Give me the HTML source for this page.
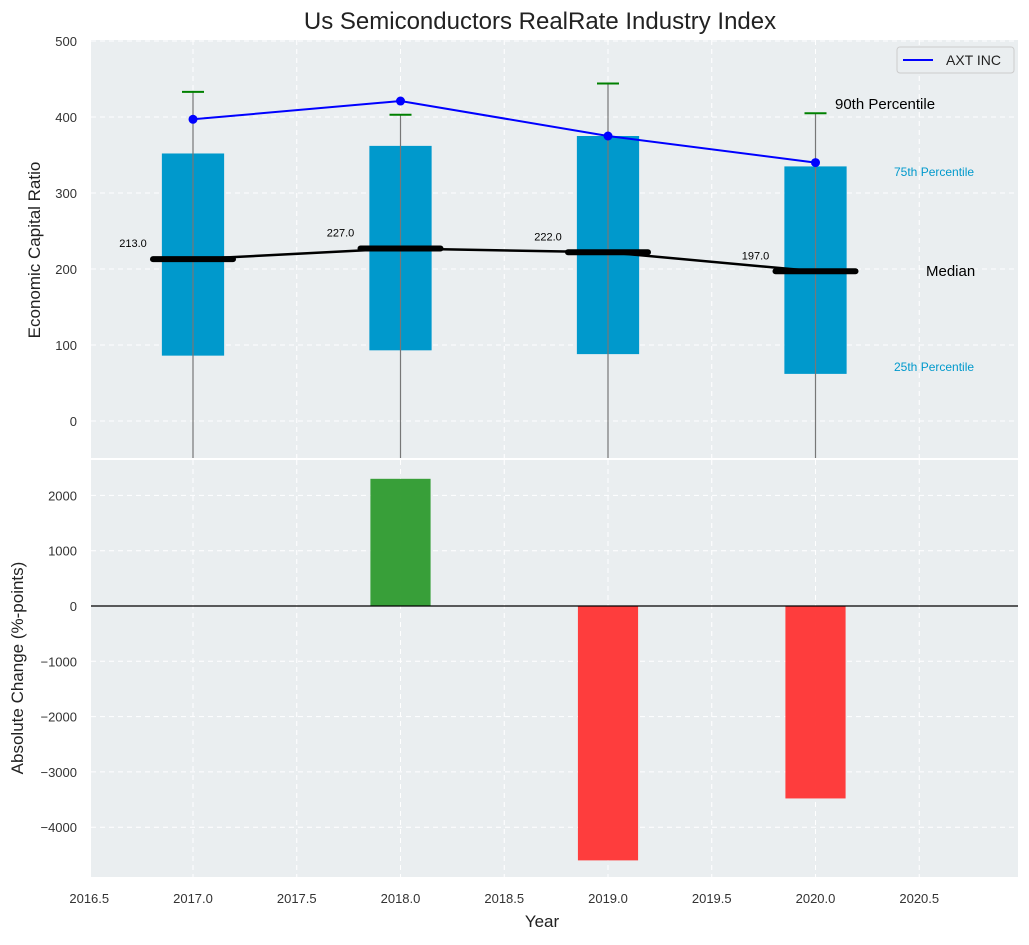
<!DOCTYPE html>
<html><head><meta charset="utf-8"><style>
body{margin:0;background:#fff;font-family:"Liberation Sans",sans-serif}
svg text{font-family:"Liberation Sans",sans-serif}
</style></head><body>
<svg id="c" width="1029" height="940" xmlns="http://www.w3.org/2000/svg">
<text x="540" y="29" text-anchor="middle" font-size="24" fill="#222">Us Semiconductors RealRate Industry Index</text>
<g id="gtop"></g><g id="gbot"></g>
<text x="542" y="927" text-anchor="middle" font-size="17" fill="#222">Year</text>
<text transform="translate(40,250) rotate(-90)" text-anchor="middle" font-size="17" fill="#222">Economic Capital Ratio</text>
<text transform="translate(23,668) rotate(-90)" text-anchor="middle" font-size="17" fill="#222">Absolute Change (%-points)</text>
</svg>
<script>
const years=[2017,2018,2019,2020];
const p25=[86,93,88,62];
const p75=[352,362,375,335];
const p90=[433,403,444,405];
const medians=[213,227,222,197];
const axt=[397,421,375,340];
const changes=[0,2300,-4600,-3480];
const xTicks=[2016.5,2017,2017.5,2018,2018.5,2019,2019.5,2020,2020.5];
const yTopTicks=[0,100,200,300,400,500];
const yBotTicks=[-4000,-3000,-2000,-1000,0,1000,2000];
const NS="http://www.w3.org/2000/svg";
const L=91,R=1018,T1=40,B1=458,T2=460,B2=877;
const X=v=>193+(v-2017)*207.5;
const Y1=v=>421-v*0.76;
const Y2=v=>606-v*0.0553;
function mk(tag,at,parent){const el=document.createElementNS(NS,tag);for(const k in at)el.setAttribute(k,at[k]);parent.appendChild(el);return el;}
const gTop=document.getElementById('gtop'),gBot=document.getElementById('gbot');
let e;
e=mk('rect',{x:L,y:T1,width:R-L,height:B1-T1,fill:'#eaeef0'},gTop);


e=mk('rect',{x:L,y:T2,width:R-L,height:B2-T2,fill:'#eaeef0'},gBot);


xTicks.forEach(t=>{
 mk('line',{x1:X(t),x2:X(t),y1:T1,y2:B1,stroke:'#fff','stroke-dasharray':'5,4','stroke-width':1},gTop);
 mk('line',{x1:X(t),x2:X(t),y1:T2,y2:B2,stroke:'#fff','stroke-dasharray':'5,4','stroke-width':1},gBot);
 e=mk('text',{x:X(t),y:903,'text-anchor':'middle','font-size':13,fill:'#333'},gBot);e.textContent=t.toFixed(1);
 
 
});
yTopTicks.forEach(t=>{
 mk('line',{x1:L,x2:R,y1:Y1(t),y2:Y1(t),stroke:'#fff','stroke-dasharray':'5,4'},gTop);
 e=mk('text',{x:77,y:Y1(t)+5,'text-anchor':'end','font-size':13,fill:'#333'},gTop);e.textContent=t;
 
 
});
yBotTicks.forEach(t=>{
 mk('line',{x1:L,x2:R,y1:Y2(t),y2:Y2(t),stroke:'#fff','stroke-dasharray':'5,4'},gBot);
 e=mk('text',{x:77,y:Y2(t)+5,'text-anchor':'end','font-size':13,fill:'#333'},gBot);e.textContent=t<0?'\u2212'+(-t):t;
 
 
});
const bw=0.3*207.5;
years.forEach((y,i)=>{
 e=mk('rect',{x:X(y)-bw/2,y:Y1(p75[i]),width:bw,height:Y1(p25[i])-Y1(p75[i]),fill:'#0099cc'},gTop);
 
 
 e=mk('line',{x1:X(y),x2:X(y),y1:B1,y2:Y1(p90[i]),stroke:'#777','stroke-width':1.2},gTop);
 
 
 e=mk('line',{x1:X(y)-11,x2:X(y)+11,y1:Y1(p90[i]),y2:Y1(p90[i]),stroke:'#008000','stroke-width':2},gTop);
 
 
});
e=mk('polyline',{points:years.map((y,i)=>X(y)+','+Y1(medians[i])).join(' '),fill:'none',stroke:'#000','stroke-width':2.5},gTop);


years.forEach((y,i)=>{
 e=mk('line',{x1:X(y)-40,x2:X(y)+40,y1:Y1(medians[i]),y2:Y1(medians[i]),stroke:'#000','stroke-width':6,'stroke-linecap':'round'},gTop);
 
 
 e=mk('text',{x:X(y)-60,y:Y1(medians[i])-12,'text-anchor':'middle','font-size':11,fill:'#000'},gTop);e.textContent=medians[i].toFixed(1);
 
 
});
e=mk('polyline',{points:years.map((y,i)=>X(y)+','+Y1(axt[i])).join(' '),fill:'none',stroke:'#0000ff','stroke-width':2},gTop);


years.forEach((y,i)=>{e=mk('circle',{cx:X(y),cy:Y1(axt[i]),r:4.5,fill:'#0000ff'},gTop);
 
 });
[['90th Percentile',835,109,15,'#000','label-90th'],['75th Percentile',894,176,12,'#0099cc','label-75th'],['Median',926,276,15,'#000','label-median'],['25th Percentile',894,371,12,'#0099cc','label-25th']].forEach(a=>{
 e=mk('text',{x:a[1],y:a[2],'font-size':a[3],fill:a[4]},gTop);e.textContent=a[0];
 
 
});
e=mk('rect',{x:897,y:47,width:117,height:26,rx:3,fill:'#eaeef0',stroke:'#ccc'},gTop);


mk('line',{x1:903,x2:933,y1:60,y2:60,stroke:'#0000ff','stroke-width':2},gTop);
e=mk('text',{x:946,y:65,'font-size':14,fill:'#222'},gTop);e.textContent='AXT INC';


const cw=0.29*207.5;
years.forEach((y,i)=>{
 if(!changes[i])return;
 const v=changes[i];
 e=mk('rect',{x:X(y)-cw/2,y:Math.min(Y2(v),Y2(0)),width:cw,height:Math.abs(Y2(v)-Y2(0)),fill:v>0?'#2e9a2e':'#ff3333',opacity:0.95},gBot);
 
 
});
e=mk('line',{x1:L,x2:R,y1:Y2(0),y2:Y2(0),stroke:'#000','stroke-width':1.2},gBot);


</script>
</body></html>
